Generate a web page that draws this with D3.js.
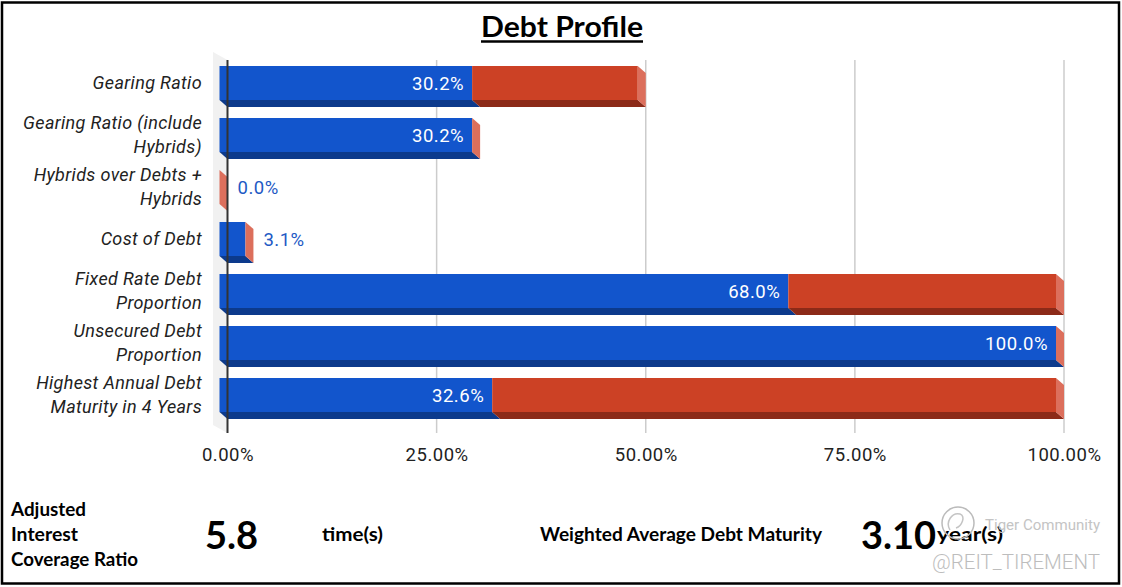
<!DOCTYPE html>
<html><head><meta charset="utf-8">
<script src="https://cdn.jsdelivr.net/npm/d3@7"></script>
<style>html,body{margin:0;padding:0;background:#fff;}svg{display:block;}</style>
</head><body>
<script>
const categories = ["Gearing Ratio","Gearing Ratio (include Hybrids)","Hybrids over Debts + Hybrids","Cost of Debt","Fixed Rate Debt Proportion","Unsecured Debt Proportion","Highest Annual Debt Maturity in 4 Years"];
const values = [30.2, 30.2, 0.0, 3.1, 68.0, 100.0, 32.6];
const remainders = [19.8, 0, 0, 0, 32.0, 0, 67.4];
const xTicks = [0, 0.25, 0.5, 0.75, 1];
const title = "Debt Profile";
const icrLabel = ["Adjusted","Interest","Coverage Ratio"];
const icrValue = "5.8", icrUnit = "time(s)";
const wadmLabel = "Weighted Average Debt Maturity";
const wadmValue = "3.10", wadmUnit = "year(s)";

const W = 1122, H = 587;
const svg = d3.select("body").append("svg").attr("width", W).attr("height", H);

const x = d3.scaleLinear().domain([0, 1]).range([227.5, 1064]);
const y = d3.scaleBand().domain(categories).range([57, 421]).paddingInner(18/52).paddingOuter(9/52);
const DX = 8, DY = 7;
const bw = y.bandwidth();

const C = {blue:"#1255cc", blueDark:"#0c3a8c", red:"#cc4125", redDark:"#8c2a18", side:"#dc6f5c"};

// left wall
svg.append("polygon").attr("points", [[213,52],[x(0),60],[x(0),433],[213,425]].join(" ")).attr("fill","#f1f1f1");

// gridlines
svg.append("g").selectAll("line").data(xTicks.slice(1)).join("line")
  .attr("x1", d => x(d)).attr("x2", d => x(d)).attr("y1", 60).attr("y2", 433)
  .attr("stroke", "#cccccc").attr("stroke-width", 1.5);

// x axis labels
const xAxis = d3.axisBottom(x).tickValues(xTicks).tickFormat(d3.format(".2%")).tickSize(0).tickPadding(0);
const gx = svg.append("g").attr("transform", "translate(0,450)").call(xAxis);
gx.select(".domain").remove();
gx.selectAll("text").attr("font-family","Roboto").attr("font-size",18.5).attr("letter-spacing","0.5px").attr("fill","#222").attr("dy","0.62em");

// bars
const rows = categories.map((c, i) => ({c, v: values[i] / 100, r: remainders[i] / 100}));
const gb = svg.append("g");
rows.forEach(d => {
  const yb = y(d.c);
  const segs = [{s: 0, e: d.v, f: C.blue, k: C.blueDark}];
  if (d.r > 0) segs.push({s: d.v, e: d.v + d.r, f: C.red, k: C.redDark});
  segs.forEach(s => {
    const xs = x(s.s) - DX, xe = x(s.e) - DX;
    if (xe > xs) {
      gb.append("polygon").attr("points", [[xs, yb+bw],[xe, yb+bw],[xe+DX, yb+bw+DY],[xs+DX, yb+bw+DY]].join(" ")).attr("fill", s.k);
      gb.append("rect").attr("x", xs).attr("y", yb).attr("width", xe - xs).attr("height", bw).attr("fill", s.f);
    }
  });
  const xt = x(d.v + d.r) - DX;
  gb.append("polygon").attr("points", [[xt, yb],[xt+DX, yb+DY],[xt+DX, yb+bw+DY],[xt, yb+bw]].join(" ")).attr("fill", C.side);
  const inside = d.v >= 0.1;
  gb.append("text")
    .attr("x", inside ? x(d.v) - DX - 8 : x(d.v) + 10)
    .attr("y", yb + bw/2)
    .attr("dy", "0.36em")
    .attr("text-anchor", inside ? "end" : "start")
    .attr("font-family", "Roboto").attr("font-size", 18.5).attr("letter-spacing","0.5px")
    .attr("fill", inside ? "#fff" : "#2259c4")
    .text(d3.format(".1f")(d.v * 100) + "%");
});

// zero axis line
svg.append("line").attr("x1", x(0)).attr("x2", x(0)).attr("y1", 60).attr("y2", 433).attr("stroke", "#333").attr("stroke-width", 2);

// y labels with wrapping
const gy = svg.append("g");
categories.forEach(c => {
  const t = gy.append("text").attr("text-anchor","end").attr("font-family","Roboto").attr("font-style","italic")
    .attr("font-size", 18).attr("letter-spacing","0.35px").attr("fill","#222");
  const words = c.split(" ");
  let lines = [], cur = [];
  const tmp = t.append("tspan");
  words.forEach(w => {
    cur.push(w);
    tmp.text(cur.join(" "));
    if (tmp.node().getComputedTextLength() > 192 && cur.length > 1) {
      cur.pop(); lines.push(cur.join(" ")); cur = [w];
    }
  });
  lines.push(cur.join(" "));
  tmp.remove();
  const cy = y(c) + bw/2, lh = 24;
  lines.forEach((l, i) => {
    t.append("tspan").attr("x", 202).attr("y", cy + (i - (lines.length-1)/2) * lh).attr("dy","0.36em").text(l);
  });
});

// title
svg.append("text").attr("x", 562).attr("y", 37).attr("text-anchor","middle")
  .attr("font-family","Lato").attr("font-weight","bold").attr("font-size",29).attr("fill","#000")
  .attr("textLength", 162).attr("lengthAdjust","spacingAndGlyphs").text(title);
svg.append("line").attr("x1", 481).attr("x2", 643).attr("y1", 41.5).attr("y2", 41.5).attr("stroke","#000").attr("stroke-width",2.5);

// bottom metrics
const bt = svg.append("g").attr("font-family","Lato").attr("font-weight","bold").attr("fill","#000");
const icrLens = [75, 67, 127];
icrLabel.forEach((l, i) => bt.append("text").attr("x", 11).attr("y", 516 + i*25).attr("font-size", 18)
  .attr("textLength", icrLens[i]).attr("lengthAdjust","spacingAndGlyphs").text(l));
bt.append("text").attr("x", 205).attr("y", 549).attr("font-size", 38).text(icrValue);
bt.append("text").attr("x", 322).attr("y", 541).attr("font-size", 18).attr("textLength", 61).attr("lengthAdjust","spacingAndGlyphs").text(icrUnit);
bt.append("text").attr("x", 540).attr("y", 541).attr("font-size", 18).attr("textLength", 282).attr("lengthAdjust","spacingAndGlyphs").text(wadmLabel);
bt.append("text").attr("x", 861).attr("y", 549).attr("font-size", 38).text(wadmValue);
bt.append("text").attr("x", 937).attr("y", 541).attr("font-size", 18).attr("textLength", 66).attr("lengthAdjust","spacingAndGlyphs").text(wadmUnit);

// watermark
svg.append("circle").attr("cx", 958).attr("cy", 523).attr("r", 16).attr("fill","none").attr("stroke","#bbb").attr("stroke-width",1.5);
svg.append("path").attr("d","M950,530 C945,522 952,512 960,514 C966,516 962,526 956,528").attr("fill","none").attr("stroke","#c4c4c4").attr("stroke-width",1.5);
svg.append("text").attr("x", 985).attr("y", 530).attr("font-family","Roboto").attr("font-size",14).attr("fill","#c4c4c4")
  .attr("textLength", 115).attr("lengthAdjust","spacingAndGlyphs").text("Tiger Community");
svg.append("text").attr("x", 932).attr("y", 569).attr("font-family","Roboto").attr("font-weight",300).attr("font-size",21).attr("fill","#bdbdbd")
  .attr("textLength", 168).attr("lengthAdjust","spacingAndGlyphs").text("@REIT_TIREMENT");

// border
svg.append("rect").attr("x", 2).attr("y", 2.5).attr("width", 1117).attr("height", 581).attr("fill","none").attr("stroke","#000").attr("stroke-width",2.5);
</script>
</body></html>
